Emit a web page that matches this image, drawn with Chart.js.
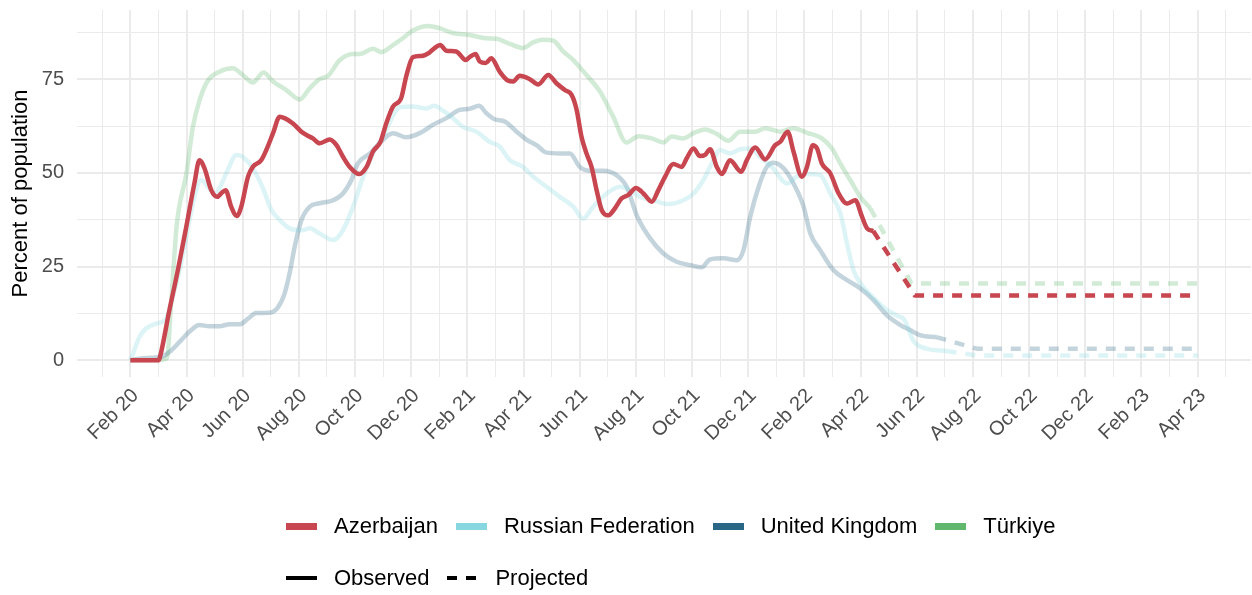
<!DOCTYPE html>
<html>
<head>
<meta charset="utf-8">
<script src="https://cdn.jsdelivr.net/npm/chart.js@4.4.0/dist/chart.umd.min.js"></script>
<style>
  body { margin: 0; background: #fff; font-family: "Liberation Sans", Arial, sans-serif; }
  #wrap { position: relative; width: 1252px; height: 595px; }
  .row { position: absolute; left: 286px; display: flex; align-items: center; height: 22px; }
  .sw { width: 31px; margin-right: 17px; }
  .txt { font-size: 22px; line-height: 22px; color: #000; margin-right: 18px; white-space: nowrap; }
</style>
</head>
<body>
<div id="wrap">
  <canvas id="chart" width="1252" height="595"></canvas>
  <div class="row" id="legendCountries" style="top:515px"></div>
  <div class="row" id="legendTypes" style="top:567px"></div>
</div>
<script>
// x = months since Feb 2020, y = percent of population
const countries = ["Azerbaijan", "Russian Federation", "United Kingdom", "Türkiye"];
const colors = ["#C8464F", "#86D7DF", "#2A6685", "#5FB86B"];

const azerbaijanObserved = [
  [0,0],[0.5,0],[1.0,0],[1.05,0.8],[1.39,13.4],[1.69,24],[1.99,35.6],[2.28,47.2],[2.46,53.4],
  [2.64,51.2],[2.88,45.4],[3.09,43.6],[3.23,44.5],[3.39,45.4],[3.59,41],[3.79,38.5],[3.95,41],
  [4.19,49],[4.36,51.6],[4.66,53.4],[4.84,56.1],[5.08,60.6],[5.32,65],[5.49,64.6],[5.79,63.2],
  [6.09,61],[6.27,60.1],[6.5,59.2],[6.74,57.9],[7.1,58.9],[7.34,57.4],[7.57,54.3],[7.81,51.6],
  [8.15,49.7],[8.41,51.6],[8.64,55.7],[8.9,58.2],[9.11,63.2],[9.35,67.7],[9.64,69.9],[9.82,75.7],
  [10.06,80.9],[10.36,81.2],[10.65,82.1],[10.83,83.3],[11.03,84.1],[11.25,82.6],[11.6,82.4],
  [11.94,80.1],[12.08,80.9],[12.29,81.7],[12.44,79.7],[12.65,79.3],[12.85,80.6],[13.15,77],
  [13.45,74.6],[13.63,74.4],[13.86,75.9],[14.22,75],[14.52,73.6],[14.88,76.1],[15.17,73.9],
  [15.47,72.1],[15.71,70.8],[15.89,66.8],[16.06,59.7],[16.24,55.2],[16.42,51.6],[16.6,45.4],
  [16.78,40.1],[17.02,38.7],[17.25,40.5],[17.49,43.2],[17.73,44.1],[18.0,46],[18.2,45],
  [18.32,44.1],[18.56,42.3],[18.8,45.4],[19.04,49],[19.33,52.4],[19.63,51.6],[19.81,53.9],
  [20.05,56.5],[20.28,54.5],[20.46,54.8],[20.64,56.3],[20.88,51.6],[21.06,49.7],[21.35,53.4],
  [21.75,50.3],[21.95,53.4],[22.25,56.8],[22.6,53.6],[22.96,57.4],[23.14,58.3],[23.4,61],
  [23.61,55.7],[23.91,49],[24.09,51.6],[24.3,57.4],[24.45,56.5],[24.62,52.5],[24.92,49.9],
  [25.22,44.5],[25.52,41.8],[25.81,42.7],[26.05,38.3],[26.23,35.2],[26.45,34.5]
];
const azerbaijanProjected = [[26.45,34.5],[27.93,17.3],[38,17.3]];

const russiaObserved = [
  [0,0],[0.14,2.7],[0.32,6.2],[0.56,8.5],[0.92,9.8],[1.27,11.1],[1.51,16.9],[1.75,24],[1.99,32.9],
  [2.28,43.6],[2.52,48.1],[2.76,46.3],[3.0,44.5],[3.17,45.9],[3.47,50.8],[3.77,54.8],[4.0,54.3],
  [4.36,51.2],[4.72,45.9],[5.02,40.1],[5.32,37.4],[5.67,35.2],[6.09,34.7],[6.39,35.2],[6.74,33.8],
  [7.22,32.1],[7.57,34.7],[7.93,41],[8.29,49],[8.64,55.2],[9.0,59.7],[9.3,64.5],[9.58,67.5],
  [10.06,67.7],[10.54,67.2],[10.83,67.9],[11.13,66.6],[11.49,64.6],[11.84,62.3],[12.32,61],
  [12.79,58.3],[13.15,57],[13.51,53.4],[13.98,51.6],[14.34,49],[14.82,46.3],[15.29,43.6],
  [15.77,41],[16.12,37.8],[16.48,41],[16.96,44.5],[17.43,46.3],[17.79,45.4],[18.15,43.6],
  [18.62,42.7],[19.15,41.7],[19.69,42.7],[20.05,44.5],[20.4,48.1],[20.7,52.5],[21.0,56.1],
  [21.35,55.2],[21.71,56.3],[22.07,56.5],[22.42,54.3],[22.84,51.6],[23.38,47.2],[23.73,49],
  [24.09,49.7],[24.56,49.4],[24.92,44.5],[25.28,39.2],[25.52,31],[25.75,24],[26.0,20.5],
  [26.47,16.6],[26.94,13.4],[27.28,12],[27.57,10.7],[27.87,5.3],[28.35,3.1],[29.06,2.5]
];
const russiaProjected = [[29.06,2.5],[30.13,1.3],[38,1.3]];

const ukObserved = [
  [0,0],[0.32,0.4],[0.8,0.7],[1.09,0.9],[1.39,2.2],[1.75,4.9],[2.1,7.6],[2.46,9.4],[2.82,9.1],
  [3.17,9.1],[3.53,9.6],[3.89,9.6],[4.19,11.1],[4.48,12.6],[4.96,12.7],[5.26,14.2],[5.49,17.8],
  [5.67,23.2],[5.85,30.3],[6.09,37.4],[6.39,41],[6.74,41.9],[7.22,42.7],[7.57,44.5],[7.87,48.1],
  [8.1,52.5],[8.53,55.2],[8.88,58],[9.35,60.6],[9.82,59.5],[10.3,60.6],[10.77,62.8],[11.25,64.6],
  [11.72,66.8],[12.08,67.1],[12.41,67.9],[12.68,65.9],[12.97,64.3],[13.33,63.7],[13.75,61],
  [14.1,58.9],[14.46,57.4],[14.82,55.4],[15.29,55.2],[15.65,55.2],[16.0,51.6],[16.36,50.6],
  [16.84,50.6],[17.31,49.4],[17.67,46.3],[18.05,38.3],[18.5,32.6],[18.98,28.5],[19.45,26.3],
  [19.93,25.4],[20.34,24.8],[20.64,26.9],[21.12,27.2],[21.59,26.7],[21.83,29.4],[22.07,38.3],
  [22.37,46.3],[22.66,51.6],[22.9,52.7],[23.26,51.2],[23.61,47.2],[23.97,41],[24.21,33.8],
  [24.56,29.4],[25.04,24],[25.52,21.4],[25.99,19.2],[26.47,16],[26.94,12],[27.42,9.4],
  [27.78,8],[28.11,6.7],[28.7,6.2]
];
const ukProjected = [[28.7,6.2],[30.13,3.1],[38,3.1]];

const turkiyeObserved = [
  [0,0],[0.8,0],[1.3,0.5],[1.45,15],[1.65,36],[2.0,50],[2.22,62],[2.47,69.5],[2.75,74.5],
  [3.17,77],[3.65,77.9],[4.0,76.1],[4.36,74.1],[4.74,76.8],[5.08,74.4],[5.55,72.1],[6.03,69.6],
  [6.39,72.6],[6.74,75],[7.04,75.9],[7.46,80.1],[7.93,81.7],[8.17,81.7],[8.64,83.1],[8.94,82.2],
  [9.35,84.1],[9.7,85.9],[10.06,88],[10.6,89.2],[11.0,88.6],[11.49,87.3],[12.08,86.8],
  [12.68,85.9],[13.03,85.8],[13.51,84.4],[13.98,83.3],[14.34,84.8],[14.7,85.5],[15.05,85.3],
  [15.41,82.4],[15.77,80.1],[16.24,76.1],[16.72,71.7],[17.19,65],[17.67,58.1],[18.09,59.8],
  [18.56,59.2],[18.98,58.1],[19.27,59.7],[19.69,59.2],[20.05,60.6],[20.46,61.6],[20.88,60.4],
  [21.29,58.6],[21.71,61],[22.25,61],[22.6,61.9],[23.14,61],[23.61,61.9],[24.09,60.7],
  [24.62,59.2],[24.98,56.5],[25.28,52.5],[25.63,48.1],[25.99,43.6],[26.35,40.5]
];
const turkiyeProjected = [[26.35,40.5],[27.81,20.5],[38,20.5]];

// axis ticks
const xGridMonths = [-1,0,1,2,3,4,5,6,7,8,9,10,11,12,13,14,15,16,17,18,19,20,21,22,23,24,25,26,27,28,29,30,31,32,33,34,35,36,37,38,39];
const xTickMonths = [0,2,4,6,8,10,12,14,16,18,20,22,24,26,28,30,32,34,36,38];
const xTickLabels = ["Feb 20","Apr 20","Jun 20","Aug 20","Oct 20","Dec 20","Feb 21","Apr 21","Jun 21","Aug 21",
  "Oct 21","Dec 21","Feb 22","Apr 22","Jun 22","Aug 22","Oct 22","Dec 22","Feb 23","Apr 23"];
const yGridValues = [0,12.5,25,37.5,50,62.5,75,87.5];
const yTickValues = [0,25,50,75];

const FONT = '"Liberation Sans", Arial, sans-serif';

function fade(hex, a) {
  const n = parseInt(hex.slice(1), 16);
  return `rgba(${n >> 16},${(n >> 8) & 255},${n & 255},${a})`;
}

function line(points, color, dashed) {
  return {
    data: points.map(p => ({ x: p[0], y: p[1] })),
    borderColor: color,
    borderWidth: 4.5,
    borderDash: dashed ? [10, 9] : [],
    borderCapStyle: "butt",
    borderJoinStyle: "round",
    pointRadius: 0,
    fill: false,
    tension: dashed ? 0 : 0.4,
    cubicInterpolationMode: dashed ? "default" : "monotone"
  };
}

const faded = colors.map((c, i) => i === 0 ? c : fade(c, 0.28));

const datasets = [
  line(azerbaijanObserved, faded[0], false),
  line(azerbaijanProjected, faded[0], true),
  line(russiaObserved, faded[1], false),
  line(russiaProjected, faded[1], true),
  line(ukObserved, faded[2], false),
  line(ukProjected, faded[2], true),
  line(turkiyeObserved, faded[3], false),
  line(turkiyeProjected, faded[3], true)
];

new Chart(document.getElementById("chart").getContext("2d"), {
  type: "line",
  data: { datasets },
  options: {
    responsive: false,
    animation: false,
    devicePixelRatio: 1,
    layout: { padding: { top: 10, right: 1, left: 0, bottom: 0 } },
    plugins: { legend: { display: false }, tooltip: { enabled: false } },
    scales: {
      x: {
        type: "linear",
        min: -1.9,
        max: 39.9,
        afterBuildTicks: s => { s.ticks = xGridMonths.map(v => ({ value: v })); },
        afterFit: s => { s.height = 218; s.paddingLeft = 0; s.paddingRight = 0; },
        border: { display: false },
        grid: {
          color: "#ebebeb",
          drawTicks: false,
          lineWidth: c => xTickMonths.includes(c.tick.value) ? 2 : 1
        },
        ticks: {
          autoSkip: false,
          maxRotation: 45,
          minRotation: 45,
          padding: 7,
          labelOffset: 5,
          color: "#4d4d4d",
          font: { family: FONT, size: 20 },
          callback: v => {
            const i = xTickMonths.indexOf(v);
            return i >= 0 ? xTickLabels[i] : "";
          }
        }
      },
      y: {
        type: "linear",
        min: -4.45,
        max: 93.45,
        afterBuildTicks: s => { s.ticks = yGridValues.map(v => ({ value: v })); },
        afterFit: s => { s.width = 77; s.paddingTop = 0; s.paddingBottom = 0; },
        border: { display: false },
        grid: {
          color: "#ebebeb",
          drawTicks: false,
          lineWidth: c => yTickValues.includes(c.tick.value) ? 2 : 1
        },
        ticks: {
          padding: 13,
          color: "#4d4d4d",
          font: { family: FONT, size: 20 },
          callback: v => yTickValues.includes(v) ? String(v) : ""
        },
        title: {
          display: true,
          text: "Percent of population",
          color: "#000",
          font: { family: FONT, size: 22 },
          padding: { top: 8, bottom: 0 }
        }
      }
    }
  }
});

// legend
const rowA = document.getElementById("legendCountries");
countries.forEach((name, i) => {
  rowA.insertAdjacentHTML("beforeend",
    `<div class="sw" style="height:7px;background:${colors[i]}"></div><div class="txt">${name}</div>`);
});
const rowB = document.getElementById("legendTypes");
rowB.insertAdjacentHTML("beforeend",
  `<div class="sw" style="height:4px;background:#000"></div><div class="txt">Observed</div>` +
  `<div class="sw" style="height:4px;background:linear-gradient(to right,#000 0 10px,transparent 10px 19px,#000 19px 29px,transparent 29px)"></div>` +
  `<div class="txt">Projected</div>`);
</script>
</body>
</html>
